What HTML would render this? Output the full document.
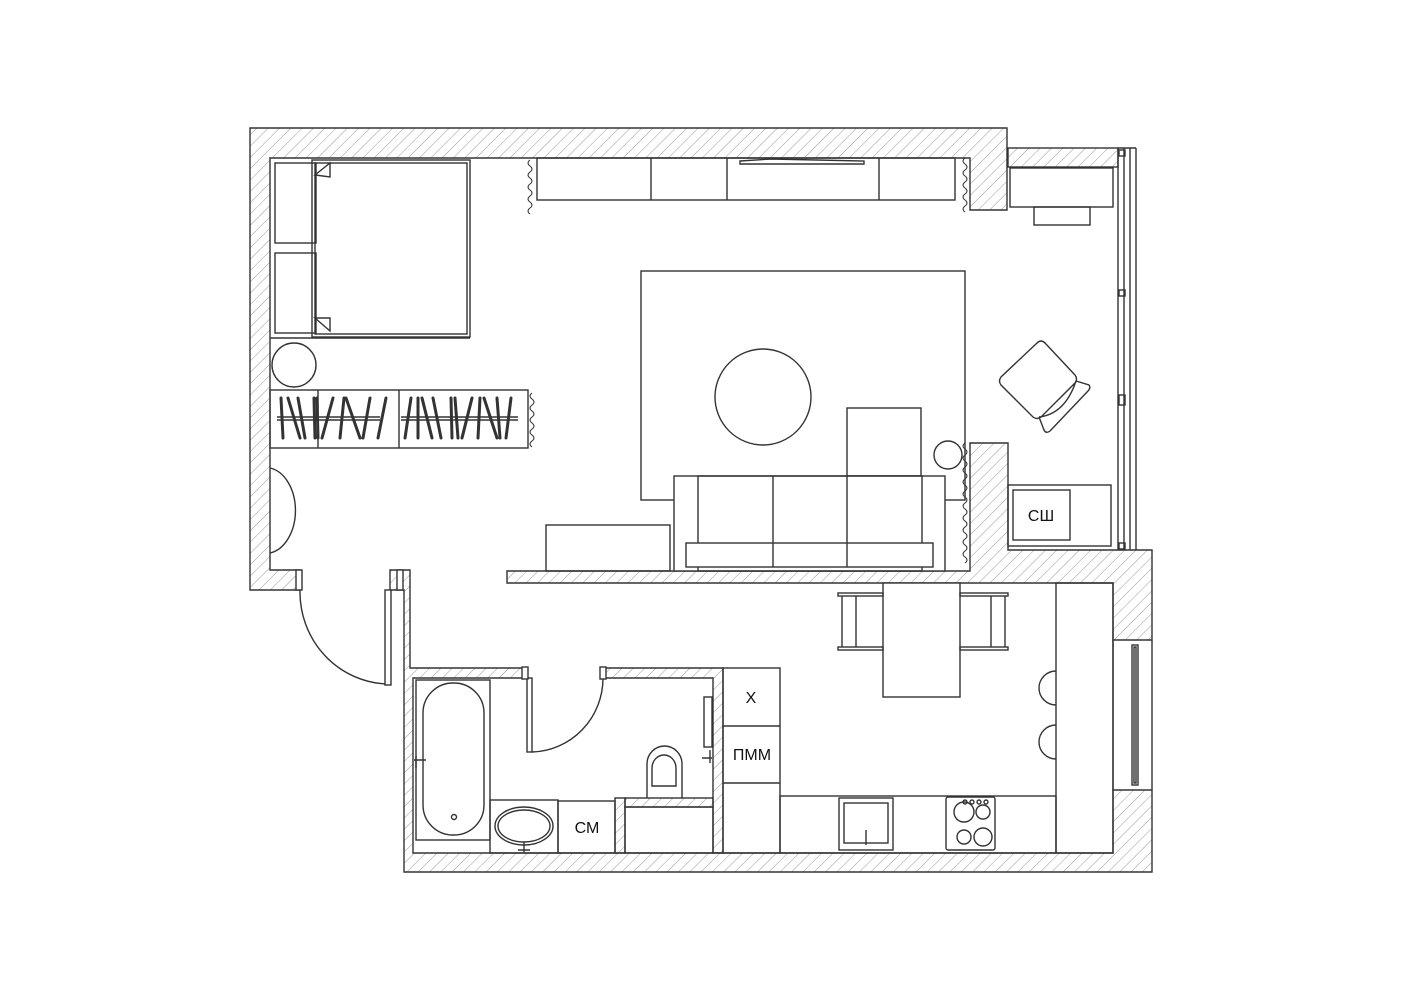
<!DOCTYPE html>
<html><head><meta charset="utf-8"><style>html,body{margin:0;padding:0;background:#fff}svg{display:block}</style></head>
<body>
<svg width="1414" height="1000" viewBox="0 0 1414 1000" xmlns="http://www.w3.org/2000/svg" font-family="Liberation Sans, sans-serif">
<defs>
<pattern id="h" width="8" height="8" patternUnits="userSpaceOnUse" patternTransform="rotate(45)">
<line x1="0" y1="0" x2="0" y2="8" stroke="#999" stroke-width="1"/>
</pattern>
</defs>
<rect width="1414" height="1000" fill="#fff"/>
<g fill="url(#h)" stroke="#333" stroke-width="1.4">
<path d="M250,128 H1007 V210 H970 V158 H270 V570 H300 V590 H250 Z"/>
<rect x="1008" y="148" width="110" height="19"/>
<path d="M390,570 H410 V668 H525 V678 H413 V853 H1113 V790 H1152 V872 H404 V590 H390 Z"/>
<path d="M603,668 H723 V853 H713 V678 H603 Z"/>
<path d="M507,571 H970 V443 H1008 V550 H1152 V640 H1113 V583 H507 Z"/>
<rect x="615" y="798" width="10" height="55"/>
<rect x="625" y="798" width="88" height="9"/>
</g>
<g fill="none" stroke="#333" stroke-width="1.4">
<line x1="1118" y1="148" x2="1118" y2="550"/><line x1="1124" y1="148" x2="1124" y2="550"/><line x1="1130" y1="148" x2="1130" y2="550"/>
<line x1="1118" y1="148" x2="1136" y2="148"/><line x1="1136" y1="148" x2="1136" y2="550"/>
<rect x="1119" y="150" width="6" height="6"/><rect x="1119" y="290" width="6" height="6"/><rect x="1119" y="395" width="6" height="10"/><rect x="1119" y="543" width="6" height="6"/>
<line x1="1113" y1="640" x2="1113" y2="790"/><line x1="1152" y1="640" x2="1152" y2="790"/>
<rect x="1132" y="645" width="6" height="140"/><rect x="1134" y="647" width="2" height="136"/>
<rect x="312" y="160" width="158" height="177"/><rect x="315" y="163" width="152" height="171"/>
<rect x="275" y="163" width="41" height="80"/><rect x="275" y="253" width="41" height="80"/>
<path d="M315,175 L330,163 V177 Z M315,318 L330,331 V318 Z" fill="#fff"/>
<line x1="270" y1="338" x2="470" y2="338"/>
<circle cx="294" cy="365" r="22"/>
<rect x="270" y="390" width="258" height="58"/>
<line x1="318" y1="390" x2="318" y2="448"/><line x1="399" y1="390" x2="399" y2="448"/>
<line x1="277" y1="417" x2="380" y2="417"/><line x1="277" y1="420" x2="380" y2="420"/>
<line x1="401" y1="417" x2="518" y2="417"/><line x1="401" y1="420" x2="518" y2="420"/>
<path d="M270,468 A30,43 0 0 1 270,553"/>
<rect x="537" y="158" width="418" height="42"/>
<line x1="651" y1="158" x2="651" y2="200"/><line x1="727" y1="158" x2="727" y2="200"/><line x1="879" y1="158" x2="879" y2="200"/>
<path d="M740,161 L771,159 L864,161 V164 H740 Z"/>
<rect x="641" y="271" width="324" height="229"/>
<circle cx="763" cy="397" r="48"/>
<rect x="847" y="408" width="74" height="68" fill="#fff"/>
<circle cx="948" cy="455" r="14" fill="#fff"/>
<rect x="674" y="476" width="271" height="95" fill="#fff"/>
<rect x="698" y="476" width="224" height="95"/>
<line x1="773" y1="476" x2="773" y2="567"/><line x1="847" y1="476" x2="847" y2="567"/>
<rect x="686" y="543" width="247" height="24" fill="#fff"/>
<line x1="773" y1="543" x2="773" y2="567"/><line x1="847" y1="543" x2="847" y2="567"/>
<rect x="546" y="525" width="124" height="46"/>
<rect x="1010" y="168" width="103" height="39"/><rect x="1034" y="207" width="56" height="18"/>
<path d="M1001,377 Q998,381 1001,385 L1033,417 Q1037,420 1041,417 L1075,383 Q1078,379 1075,375 L1045,343 Q1041,339 1037,343 Z"/>
<path d="M1076,381 L1089,385 Q1091,388 1088,391 L1050,431 Q1046,434 1044,430 L1039,417"/>
<path d="M1039,417 Q1065,414 1076,381"/>
<rect x="1008" y="485" width="103" height="61"/><rect x="1013" y="490" width="57" height="50"/>
<path d="M300,590 A90,92 0 0 0 388,684"/>
<rect x="385" y="590" width="6" height="95" fill="#fff"/>
<rect x="296" y="570" width="6" height="20" fill="#fff"/><rect x="397" y="570" width="6" height="20" fill="#fff"/>
<path d="M532,752 A73,74 0 0 0 603,678"/>
<rect x="527" y="678" width="5" height="74" fill="#fff"/>
<rect x="522" y="667" width="6" height="12" fill="#fff"/><rect x="600" y="667" width="6" height="12" fill="#fff"/>
<rect x="416" y="680" width="74" height="160"/>
<rect x="423" y="683" width="61" height="152" rx="30" ry="30"/>
<circle cx="454" cy="817" r="2.5"/>
<path d="M414,760 H426 M416,756 V768"/>
<rect x="490" y="800" width="68" height="53"/>
<ellipse cx="524" cy="826" rx="29" ry="19"/><ellipse cx="524" cy="826" rx="26" ry="16"/>
<path d="M524,842 V852 M518,850 H530"/>
<rect x="558" y="801" width="57" height="52"/>
<rect x="625" y="807" width="88" height="46"/>
<path d="M647,798 V764 A17.5,18 0 0 1 682,764 V798"/>
<path d="M652,786 V768 A12,13 0 0 1 676,768 V786 Z"/>
<rect x="704" y="697" width="8" height="50"/>
<path d="M702,758 H712 M710,750 V763"/>
<rect x="723" y="668" width="57" height="185"/>
<line x1="723" y1="726" x2="780" y2="726"/><line x1="723" y1="783" x2="780" y2="783"/>
<rect x="780" y="796" width="276" height="57"/>
<rect x="1056" y="583" width="57" height="270"/>
<rect x="839" y="798" width="54" height="52"/><rect x="844" y="803" width="44" height="40"/>
<line x1="866" y1="830" x2="866" y2="845"/>
<rect x="946" y="797" width="49" height="53" rx="2"/>
<circle cx="964" cy="812" r="10"/><circle cx="983" cy="812" r="7"/><circle cx="964" cy="837" r="7"/><circle cx="983" cy="837" r="9"/>
<circle cx="965" cy="802" r="2"/><circle cx="972" cy="802" r="2"/><circle cx="979" cy="802" r="2"/><circle cx="986" cy="802" r="2"/>
<rect x="883" y="583" width="77" height="114" fill="#fff"/>
<rect x="838" y="593" width="45" height="3"/><rect x="838" y="647" width="45" height="3"/>
<line x1="842" y1="596" x2="842" y2="647"/><line x1="856" y1="596" x2="856" y2="647"/>
<rect x="960" y="593" width="48" height="3"/><rect x="960" y="647" width="48" height="3"/>
<line x1="991" y1="596" x2="991" y2="647"/><line x1="1005" y1="596" x2="1005" y2="647"/>
<path d="M1056,671 A17,17 0 0 0 1056,705"/>
<path d="M1056,725 A17,17 0 0 0 1056,759"/>
</g>
<g fill="none" stroke="#333" stroke-width="1">
<path d="M530,160 q-4,3 0,6 q4,3 0,6 q-4,3 0,6 q4,3 0,6 q-4,3 0,6 q4,3 0,6 q-4,3 0,6 q4,3 0,6 q-4,3 0,6"/>
<path d="M532,393 q-4,3 0,6 q4,3 0,6 q-4,3 0,6 q4,3 0,6 q-4,3 0,6 q4,3 0,6 q-4,3 0,6 q4,3 0,6 q-4,3 0,6"/>
<path d="M965,158 q-4,3 0,6 q4,3 0,6 q-4,3 0,6 q4,3 0,6 q-4,3 0,6 q4,3 0,6 q-4,3 0,6 q4,3 0,6 q-4,3 0,6"/>
<path d="M965,443 q-4,3 0,6 q4,3 0,6 q-4,3 0,6 q4,3 0,6 q-4,3 0,6 q4,3 0,6 q-4,3 0,6 q4,3 0,6 q-4,3 0,6 q4,3 0,6 q-4,3 0,6 q4,3 0,6 q-4,3 0,6 q4,3 0,6 q-4,3 0,6 q4,3 0,6 q-4,3 0,6 q4,3 0,6 q-4,3 0,6 q4,3 0,6"/>
</g>
<g stroke="#333" stroke-width="3" stroke-linecap="round">
<line x1="281" y1="398" x2="283" y2="438"/><line x1="288" y1="398" x2="300" y2="438"/><line x1="298" y1="398" x2="305" y2="438"/><line x1="314" y1="398" x2="315" y2="438"/><line x1="317" y1="398" x2="318" y2="438"/><line x1="333" y1="398" x2="322" y2="438"/><line x1="344" y1="398" x2="340" y2="438"/><line x1="346" y1="398" x2="360" y2="438"/><line x1="370" y1="398" x2="363" y2="438"/><line x1="386" y1="398" x2="378" y2="438"/>
<line x1="411" y1="398" x2="405" y2="438"/><line x1="418" y1="398" x2="418" y2="438"/><line x1="422" y1="398" x2="432" y2="438"/><line x1="433" y1="398" x2="441" y2="438"/><line x1="451" y1="398" x2="452" y2="438"/><line x1="455" y1="398" x2="458" y2="438"/><line x1="472" y1="398" x2="462" y2="438"/><line x1="480" y1="398" x2="478" y2="438"/><line x1="484" y1="398" x2="497" y2="438"/><line x1="497" y1="398" x2="500" y2="438"/><line x1="511" y1="398" x2="506" y2="438"/>
</g>
<g font-size="16" fill="#111" text-anchor="middle">
<text x="1041" y="521">СШ</text>
<text x="587" y="833">СМ</text>
<text x="751" y="703">Х</text>
<text x="752" y="760">ПММ</text>
</g>
</svg>
</body></html>
